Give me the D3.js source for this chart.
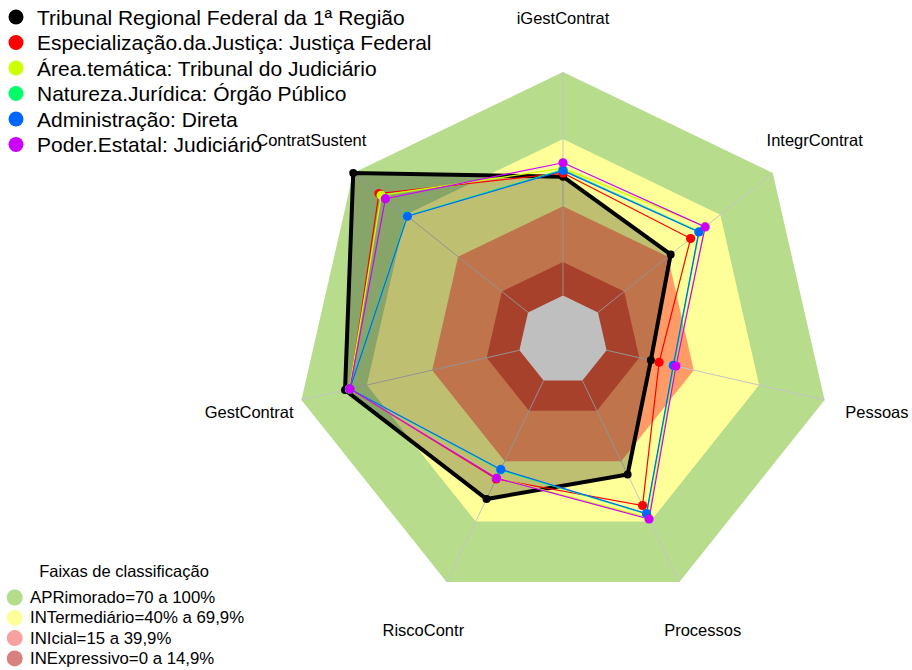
<!DOCTYPE html>
<html>
<head>
<meta charset="utf-8">
<script src="https://cdn.jsdelivr.net/npm/d3@7"></script>
<style>
  html, body { margin: 0; padding: 0; background: #fff; }
  svg { display: block; font-family: "Liberation Sans", Arial, sans-serif; }
</style>
</head>
<body>
<svg id="chart" width="912" height="670"></svg>
<script>
// Radar axes, clockwise from the top
const axes = ["iGestContrat", "IntegrContrat", "Pessoas", "Processos", "RiscoContr", "GestContrat", "ContratSustent"];

// Series (percent scores per axis)
const seriesNames = [
  "Tribunal Regional Federal da 1ª Região",
  "Especialização.da.Justiça: Justiça Federal",
  "Área.temática: Tribunal do Judiciário",
  "Natureza.Jurídica: Órgão Público",
  "Administração: Direta",
  "Poder.Estatal: Judiciário"
];
const seriesColors = ["#000000", "#FF0000", "#CCFF00", "#00FF66", "#0066FF", "#CC00FF"];
const trf1      = [53.2, 41.6, 20.3, 46.6, 58.8, 80.0, 100];
const justFed   = [54.8, 53.0, 24.1, 62.0, 48.8, 77.8, 85.3];
const areaTem   = [57.0, 61.5, 31.5, 68.0, 48.2, 78.0, 84.0];
const natJur    = [56.3, 57.9, 30.8, 66.2, 44.4, 77.9, 69.2];
const adminDir  = [55.9, 57.7, 30.6, 66.0, 44.1, 77.8, 69.0];
const poderEst  = [59.4, 61.3, 31.8, 68.7, 48.4, 77.8, 81.6];
const seriesValues = [trf1, justFed, areaTem, natJur, adminDir, poderEst];

// Classification bands
const bandLabels = ["APRimorado=70 a 100%", "INTermediário=40% a 69,9%", "INIcial=15 a 39,9%", "INExpressivo=0 a 14,9%"];
const bandTops   = [100, 70, 40, 15];
const bandColors = ["#B6DC8C", "#FFFF99", "#FF9B66", "#E0573B"];
const bandLegendColors = ["#B3DD8A", "#FFFF99", "#F7A1A1", "#D9817F"];

const svg = d3.select("#chart");
const cx = 563, cy = 340.3, R = 268.3;
const n = axes.length;
const r = d3.scaleLinear().domain([0, 100]).range([R / 6, R]);
const ang = i => i * 2 * Math.PI / n;

const g = svg.append("g").attr("transform", `translate(${cx},${cy})`);

const ring = v => d3.lineRadial()
  .angle((d, i) => ang(i))
  .radius(() => r(v))
  .curve(d3.curveLinearClosed)(axes);

// Bands, outermost first
bandTops.forEach((v, k) => {
  g.append("path").attr("d", ring(v)).attr("fill", bandColors[k]);
});
g.append("path").attr("d", ring(0)).attr("fill", "#ffffff");

// Spokes
axes.forEach((a, i) => {
  const t = ang(i) - Math.PI / 2;
  g.append("line")
    .attr("x1", r(0) * Math.cos(t)).attr("y1", r(0) * Math.sin(t))
    .attr("x2", r(100) * Math.cos(t)).attr("y2", r(100) * Math.sin(t))
    .attr("stroke", "#C4C4C4").attr("stroke-width", 1);
});

const radial = d3.lineRadial()
  .angle((d, i) => ang(i))
  .radius(d => r(d))
  .curve(d3.curveLinearClosed);

// Series polygons
seriesValues.forEach((vals, s) => {
  g.append("path")
    .attr("d", radial(vals))
    .attr("fill", s === 0 ? "rgba(0,0,0,0.25)" : "none")
    .attr("stroke", seriesColors[s])
    .attr("stroke-width", s === 0 ? 4 : 1.2)
    .attr("stroke-linejoin", "miter");
});
seriesValues.forEach((vals, s) => {
  vals.forEach((v, i) => {
    const t = ang(i) - Math.PI / 2;
    g.append("circle")
      .attr("cx", r(v) * Math.cos(t)).attr("cy", r(v) * Math.sin(t))
      .attr("r", s === 0 ? 4 : 4.6)
      .attr("fill", seriesColors[s]);
  });
});

// Axis labels
axes.forEach((a, i) => {
  const t = ang(i) - Math.PI / 2;
  const lr = R * 1.2;
  g.append("text")
    .attr("x", lr * Math.cos(t)).attr("y", lr * Math.sin(t))
    .attr("text-anchor", "middle").attr("dominant-baseline", "central")
    .attr("font-size", 16.5).attr("fill", "#000")
    .text(a);
});

// Series legend
const leg = svg.append("g");
seriesNames.forEach((name, s) => {
  const y = 17 + s * 25.5;
  leg.append("circle").attr("cx", 16).attr("cy", y).attr("r", 7.5).attr("fill", seriesColors[s]);
  leg.append("text").attr("x", 37).attr("y", y).attr("dominant-baseline", "central")
    .attr("font-size", 21).attr("fill", "#000").text(name);
});

// Band legend
const leg2 = svg.append("g");
leg2.append("text").attr("x", 124).attr("y", 571).attr("text-anchor", "middle")
  .attr("dominant-baseline", "central").attr("font-size", 16.5).attr("fill", "#000")
  .text("Faixas de classificação");
bandLabels.forEach((lab, k) => {
  const y = 597.5 + k * 20.3;
  leg2.append("circle").attr("cx", 14.7).attr("cy", y).attr("r", 8).attr("fill", bandLegendColors[k]);
  leg2.append("text").attr("x", 30).attr("y", y).attr("dominant-baseline", "central")
    .attr("font-size", 16.8).attr("fill", "#000").text(lab);
});
</script>
</body>
</html>
